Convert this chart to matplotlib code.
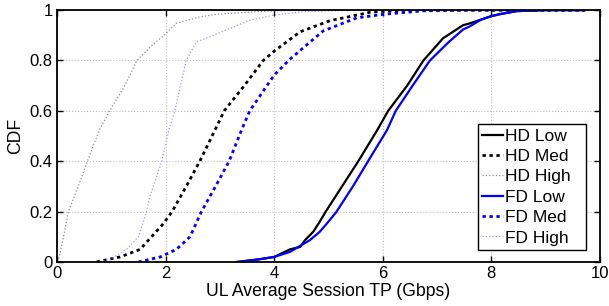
import matplotlib

matplotlib.use("Agg")
import matplotlib.pyplot as plt

plt.rcParams["font.family"] = ["Liberation Sans", "DejaVu Sans"]

# CDF points (x in Gbps, y = CDF)
hd_low_x = [3.31, 3.7, 4.0, 4.29, 4.48, 4.57, 4.72, 4.84, 4.95, 5.25, 5.55, 5.9,
            6.10, 6.45, 6.75, 7.11, 7.48, 7.60, 7.82, 8.0, 8.16, 8.47, 9.0, 9.72]
hd_low_y = [0, 0.01, 0.02, 0.05, 0.06, 0.087, 0.12, 0.16, 0.2, 0.3, 0.4, 0.524,
            0.6, 0.7, 0.8, 0.888, 0.94, 0.947, 0.963, 0.976, 0.984, 0.996, 1.0, 1.0]

hd_med_x = [0.73, 1.16, 1.53, 1.74, 1.95, 2.12, 2.38, 2.63, 2.91, 3.08, 3.45, 3.80,
            4.0, 4.48, 5.03, 5.76, 6.0, 6.5, 9.72]
hd_med_y = [0, 0.02, 0.05, 0.1, 0.15, 0.2, 0.3, 0.4, 0.524, 0.6, 0.7, 0.8,
            0.837, 0.914, 0.958, 0.991, 0.995, 1.0, 1.0]

hd_high_x = [0.02, 0.04, 0.12, 0.21, 0.39, 0.56, 0.78, 0.97, 1.25, 1.47, 1.75, 2.0,
             2.2, 2.63, 3.0, 4.0, 4.5, 9.72]
hd_high_y = [0, 0.02, 0.1, 0.2, 0.3, 0.4, 0.524, 0.6, 0.7, 0.8, 0.86, 0.905,
             0.948, 0.973, 0.985, 0.997, 1.0, 1.0]

fd_low_x = [3.31, 3.7, 4.0, 4.29, 4.66, 4.84, 5.0, 5.15, 5.45, 5.73, 6.08, 6.24,
            6.55, 6.87, 7.2, 7.48, 7.6, 7.82, 8.0, 8.16, 8.47, 9.0, 9.72]
fd_low_y = [0, 0.01, 0.02, 0.04, 0.087, 0.12, 0.16, 0.2, 0.3, 0.4, 0.524, 0.6,
            0.7, 0.8, 0.87, 0.923, 0.935, 0.963, 0.976, 0.984, 0.996, 1.0, 1.0]

fd_med_x = [1.5, 1.9, 2.2, 2.45, 2.66, 2.92, 3.17, 3.40, 3.55, 4.0, 4.29, 4.90,
            5.52, 6.0, 6.74, 7.6, 9.72]
fd_med_y = [0, 0.02, 0.05, 0.1, 0.2, 0.3, 0.4, 0.524, 0.6, 0.742, 0.805, 0.917,
            0.969, 0.983, 0.997, 1.0, 1.0]

fd_high_x = [0.73, 0.98, 1.28, 1.5, 1.65, 1.71, 1.93, 2.06, 2.17, 2.38, 2.57, 2.88,
             3.55, 4.0, 4.48, 5.5, 9.72]
fd_high_y = [0, 0.01, 0.05, 0.1, 0.2, 0.26, 0.4, 0.524, 0.6, 0.8, 0.874, 0.9,
             0.96, 0.98, 0.993, 1.0, 1.0]

x_ticks = [0, 2, 4, 6, 8, 10]
y_ticks = [0, 0.2, 0.4, 0.6, 0.8, 1]
y_tick_labels = ["0", "0.2", "0.4", "0.6", "0.8", "1"]

fig = plt.figure(figsize=(6.09, 3.06), dpi=100)
ax = fig.add_axes([0.0936, 0.1438, 0.8914, 0.8232])

dash = (0, (1.2, 1.3))
ax.plot(hd_low_x, hd_low_y, color="black", lw=1.6, label="HD Low")
ax.plot(hd_med_x, hd_med_y, color="black", lw=2.0, ls=dash, label="HD Med")
ax.plot(hd_high_x, hd_high_y, color="#8c8c8c", lw=0.9, ls=":", label="HD High")
ax.plot(fd_low_x, fd_low_y, color="#0000ff", lw=1.6, label="FD Low")
ax.plot(fd_med_x, fd_med_y, color="#0000ff", lw=2.0, ls=dash, label="FD Med")
ax.plot(fd_high_x, fd_high_y, color="#9a9aff", lw=0.9, ls=":", label="FD High")

ax.set_xlim(0, 10)
ax.set_ylim(0, 1)
ax.set_xticks(x_ticks)
ax.set_yticks(y_ticks)
ax.set_yticklabels(y_tick_labels)
ax.tick_params(direction="in", length=4, width=1, labelsize=12,
               top=True, right=True, pad=3)
ax.grid(True, color="#bdbdbd", ls=":", lw=0.8)
for s in ax.spines.values():
    s.set_linewidth(1.3)

ax.set_xlabel("UL Average Session TP (Gbps)", fontsize=12.7, labelpad=1)
ax.set_ylabel("CDF", fontsize=12.7, labelpad=4)

leg = ax.legend(loc="lower left", bbox_to_anchor=(0.775, 0.048, 0.199, 0.5),
                mode="expand", borderaxespad=0, fontsize=12.5, frameon=True,
                fancybox=False, edgecolor="black", framealpha=1,
                handlelength=1.2, handletextpad=0.15, labelspacing=0.3,
                borderpad=0.25)
leg.get_frame().set_linewidth(1.0)

fig.savefig("out.png", dpi=100)
